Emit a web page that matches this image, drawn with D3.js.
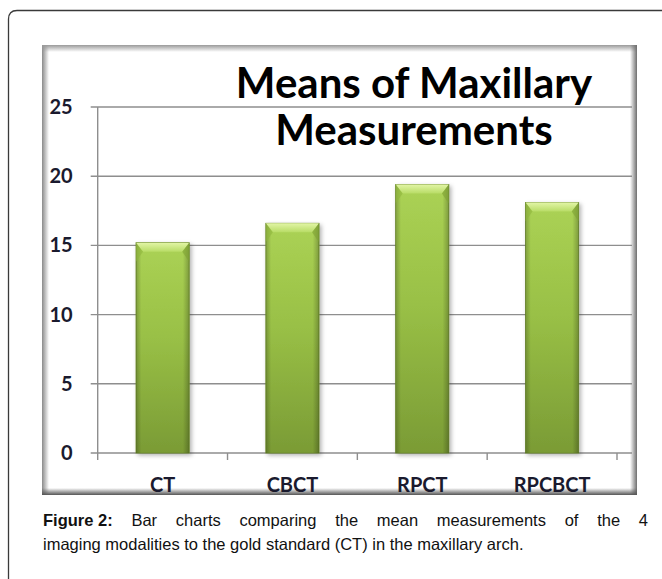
<!DOCTYPE html>
<html>
<head>
<meta charset="utf-8">
<script src="https://cdn.jsdelivr.net/npm/d3@7"></script>
<style>
body { margin: 0; background: #fff; }
svg { display: block; }
</style>
</head>
<body>
<svg id="fig" width="662" height="579"></svg>
<script>
// values
var categories = ["CT", "CBCT", "RPCT", "RPCBCT"];
var means = [15.2, 16.6, 19.4, 18.1];
var yTicks = [0, 5, 10, 15, 20, 25];
var titleLines = ["Means of Maxillary", "Measurements"];
var captionLabel = "Figure 2:";
var captionLines = [
    "Bar charts comparing the mean measurements of the 4",
    "imaging modalities to the gold standard (CT) in the maxillary arch."
];

var svg = d3.select("#fig");
var defs = svg.append("defs");

// outer page frame, rounded top-left corner
svg.append("path")
    .attr("d", "M8.5,579 V19 Q8.5,10.5 17,10.5 H662")
    .attr("fill", "none")
    .attr("stroke", "#3a3a3a")
    .attr("stroke-width", 1.3);

// chart picture box
var pic = {x: 42, y: 45, w: 595, h: 450};
var g = svg.append("g");

function edgeGrad(id, x1, y1, x2, y2, c) {
    let lg = defs.append("linearGradient").attr("id", id)
        .attr("x1", x1).attr("y1", y1).attr("x2", x2).attr("y2", y2);
    lg.append("stop").attr("offset", "0%").attr("stop-color", c).attr("stop-opacity", 1);
    lg.append("stop").attr("offset", "100%").attr("stop-color", c).attr("stop-opacity", 0);
}
edgeGrad("eL", 0, 0, 1, 0, "#8a8a8a");
edgeGrad("eT", 0, 0, 0, 1, "#9a9a9a");
edgeGrad("eR", 1, 0, 0, 0, "#6e6e6e");
edgeGrad("eB", 0, 1, 0, 0, "#555");

g.append("rect").attr("x", pic.x).attr("y", pic.y).attr("width", pic.w).attr("height", pic.h)
    .attr("fill", "#fff");
g.append("rect").attr("x", pic.x).attr("y", pic.y).attr("width", 7).attr("height", pic.h).attr("fill", "url(#eL)");
g.append("rect").attr("x", pic.x).attr("y", pic.y).attr("width", pic.w).attr("height", 7).attr("fill", "url(#eT)");
g.append("rect").attr("x", pic.x + pic.w - 7).attr("y", pic.y).attr("width", 7).attr("height", pic.h).attr("fill", "url(#eR)");
g.append("rect").attr("x", pic.x).attr("y", pic.y + pic.h - 7).attr("width", pic.w).attr("height", 7).attr("fill", "url(#eB)");

// scales
var axisX = 97.7, plotRight = 632, lastTick = 617;
var x = d3.scaleBand().domain(categories).range([axisX, lastTick])
    .paddingInner(0.59).paddingOuter(0.295);
var y = d3.scaleLinear().domain([0, 25]).range([453, 107]);

// gridlines
g.append("g").selectAll("line")
    .data(yTicks)
    .join("line")
    .attr("x1", axisX - 7)
    .attr("x2", plotRight)
    .attr("y1", d => y(d))
    .attr("y2", d => y(d))
    .attr("stroke", "#8e8e8e")
    .attr("stroke-width", 1.4);

// vertical axis line
g.append("line")
    .attr("x1", axisX).attr("x2", axisX)
    .attr("y1", y(25)).attr("y2", y(0) + 7)
    .attr("stroke", "#8e8e8e").attr("stroke-width", 1.4);

// category separator ticks under the base line
var bounds = categories.map(c => x(c) - x.step() * x.paddingInner() / 2).concat([lastTick]);
g.append("g").selectAll("line")
    .data(bounds.slice(1))
    .join("line")
    .attr("x1", d => d).attr("x2", d => d)
    .attr("y1", y(0)).attr("y2", y(0) + 7)
    .attr("stroke", "#8e8e8e").attr("stroke-width", 1.4);

// y labels via axis
var yAxis = g.append("g")
    .attr("transform", "translate(" + axisX + ",0)")
    .call(d3.axisLeft(y).tickValues(yTicks).tickSize(0).tickPadding(25));
yAxis.select(".domain").remove();
yAxis.selectAll("text")
    .attr("font-family", "Lato, 'Open Sans', sans-serif")
    .attr("font-weight", "bold")
    .attr("font-size", 20)
    .attr("fill", "#1a1a2e");

// x labels via axis
var xAxis = g.append("g")
    .attr("transform", "translate(0," + y(0) + ")")
    .call(d3.axisBottom(x).tickSize(0).tickPadding(25));
xAxis.select(".domain").remove();
xAxis.selectAll("text")
    .attr("font-family", "Lato, 'Open Sans', sans-serif")
    .attr("font-weight", "bold")
    .attr("font-size", 20)
    .attr("fill", "#1a1a2e");

// bar fills
var bv = defs.append("linearGradient").attr("id", "barV").attr("x1", 0).attr("y1", 0).attr("x2", 0).attr("y2", 1);
bv.append("stop").attr("offset", "0%").attr("stop-color", "#abd255");
bv.append("stop").attr("offset", "45%").attr("stop-color", "#99c046");
bv.append("stop").attr("offset", "100%").attr("stop-color", "#7a9b35");
var bh = defs.append("linearGradient").attr("id", "barH").attr("x1", 0).attr("y1", 0).attr("x2", 1).attr("y2", 0);
bh.append("stop").attr("offset", "0%").attr("stop-color", "#000").attr("stop-opacity", 0.22);
bh.append("stop").attr("offset", "10%").attr("stop-color", "#000").attr("stop-opacity", 0);
bh.append("stop").attr("offset", "88%").attr("stop-color", "#000").attr("stop-opacity", 0);
bh.append("stop").attr("offset", "100%").attr("stop-color", "#000").attr("stop-opacity", 0.25);
var bt = defs.append("linearGradient").attr("id", "bevel").attr("x1", 0).attr("y1", 0).attr("x2", 0).attr("y2", 1);
bt.append("stop").attr("offset", "0%").attr("stop-color", "#e2f5a6");
bt.append("stop").attr("offset", "100%").attr("stop-color", "#b8dc66");

var shadow = defs.append("filter").attr("id", "bshadow").attr("x", "-20%").attr("y", "-10%").attr("width", "150%").attr("height", "130%");
shadow.append("feDropShadow").attr("dx", 2).attr("dy", 2).attr("stdDeviation", 2).attr("flood-color", "#000").attr("flood-opacity", 0.3);

var bars = g.append("g").selectAll("g")
    .data(categories.map((c, i) => ({cat: c, val: means[i]})))
    .join("g");

bars.append("rect")
    .attr("x", d => x(d.cat))
    .attr("y", d => y(d.val))
    .attr("width", x.bandwidth())
    .attr("height", d => y(0) - y(d.val))
    .attr("fill", "url(#barV)")
    .attr("stroke", "#6d8c2c")
    .attr("stroke-width", 0.8)
    .attr("filter", "url(#bshadow)");
bars.append("rect")
    .attr("x", d => x(d.cat))
    .attr("y", d => y(d.val))
    .attr("width", x.bandwidth())
    .attr("height", d => y(0) - y(d.val))
    .attr("fill", "url(#barH)");
// top bevel
bars.append("path")
    .attr("d", function(d) {
        let x0 = x(d.cat), x1 = x0 + x.bandwidth(), t = y(d.val), b = 7, h = 9;
        return "M" + x0 + "," + t + "H" + x1 + "L" + (x1 - b) + "," + (t + h) + "H" + (x0 + b) + "Z";
    })
    .attr("fill", "url(#bevel)");
bars.append("path")
    .attr("d", function(d) {
        let x0 = x(d.cat), t = y(d.val), b = 7, h = 9;
        return "M" + x0 + "," + t + "L" + (x0 + b) + "," + (t + h) + "L" + x0 + "," + (t + h + 10) + "Z";
    })
    .attr("fill", "#8fb53c").attr("opacity", 0.6);
bars.append("path")
    .attr("d", function(d) {
        let x1 = x(d.cat) + x.bandwidth(), t = y(d.val), b = 7, h = 9;
        return "M" + x1 + "," + t + "L" + (x1 - b) + "," + (t + h) + "L" + x1 + "," + (t + h + 10) + "Z";
    })
    .attr("fill", "#7ea233").attr("opacity", 0.6);

// title
g.append("g").selectAll("text")
    .data(titleLines)
    .join("text")
    .attr("x", 414)
    .attr("y", (d, i) => 98 + i * 47)
    .attr("text-anchor", "middle")
    .attr("font-family", "Lato, 'Open Sans', sans-serif")
    .attr("font-weight", "bold")
    .attr("font-size", 42)
    .attr("fill", "#000")
    .text(d => d);

// caption, first line justified
var capLeft = 43, capRight = 648;
var cap = svg.append("g")
    .attr("font-family", "'Liberation Sans', Arial, sans-serif")
    .attr("font-size", 16.5)
    .attr("fill", "#111");

var words1 = [captionLabel].concat(captionLines[0].split(" "));
var tmp = words1.map(function(w, i) {
    let t = cap.append("text").attr("y", 526).text(w);
    if (i === 0) t.attr("font-weight", "bold");
    return t;
});
var widths = tmp.map(t => t.node().getComputedTextLength());
var total = d3.sum(widths);
var gap = (capRight - capLeft - total) / (words1.length - 1);
var cx = capLeft;
tmp.forEach(function(t, i) {
    t.attr("x", cx);
    cx += widths[i] + gap;
});

cap.append("text")
    .attr("x", capLeft)
    .attr("y", 550)
    .text(captionLines[1]);
</script>
</body>
</html>
